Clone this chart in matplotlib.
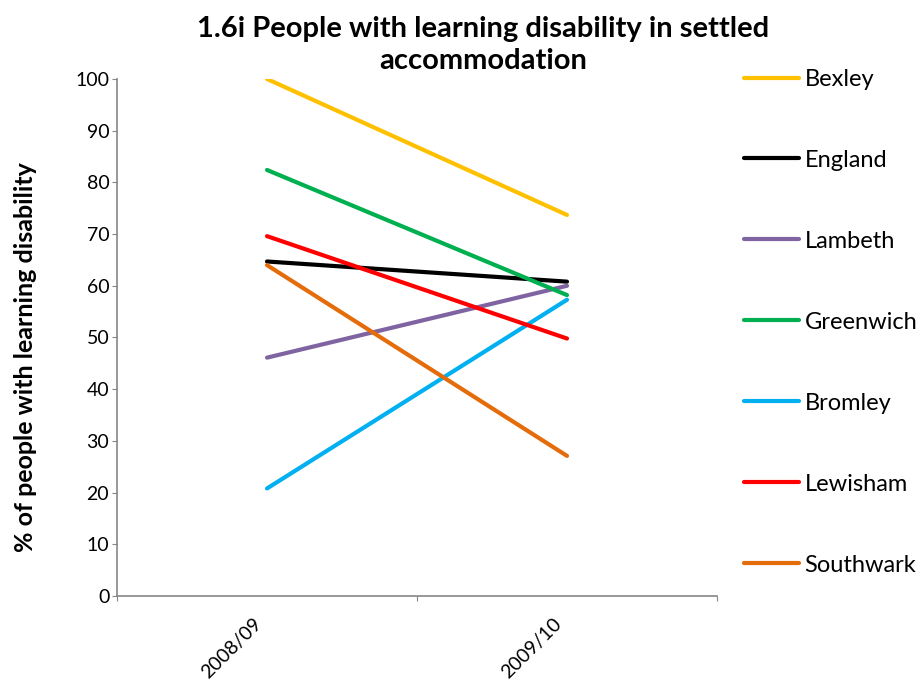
import matplotlib.pyplot as plt
from matplotlib.transforms import ScaledTranslation

# 数据
years = ['2008/09', '2009/10']
areas = ['Bexley', 'England', 'Lambeth', 'Greenwich', 'Bromley', 'Lewisham', 'Southwark']
bexley = [100.0, 73.7]
england = [64.7, 60.8]
lambeth = [46.1, 60.0]
greenwich = [82.4, 58.2]
bromley = [20.8, 57.3]
lewisham = [69.6, 49.8]
southwark = [64.0, 27.1]
colors = ['#FFC000', '#000000', '#8064A2', '#00B050', '#00B0F0', '#FF0000', '#E46C0A']

series = [bexley, england, lambeth, greenwich, bromley, lewisham, southwark]

plt.rcParams['font.family'] = ['Lato', 'DejaVu Sans']

fig = plt.figure(figsize=(9.23, 6.82), dpi=100)
ax = fig.add_axes([0.1268, 0.1261, 0.65, 0.7581])

x = list(range(len(years)))
for name, vals, c in zip(areas, series, colors):
    ax.plot(x, vals, color=c, lw=3, solid_capstyle='round', label=name)

ax.set_xlim(-0.5, len(years) - 0.5)
ax.set_ylim(0, 100)
ax.set_yticks(range(0, 101, 10))
ax.tick_params(axis='y', labelsize=14, length=3.6, color='#868686', pad=2)

# 刻度线在类别之间，标签在类别中心
ax.set_xticks([-0.5, 0.5, 1.5])
ax.set_xticklabels([])
ax.tick_params(axis='x', which='major', length=3.6, color='#868686')
ax.set_xticks(x, minor=True)
ax.set_xticklabels(years, minor=True, rotation=45, ha='right', va='center',
                   rotation_mode='anchor', fontsize=14)
ax.tick_params(axis='x', which='minor', length=0, pad=18)
shift = ScaledTranslation(-6 / 72, 0, fig.dpi_scale_trans)
for lab in ax.get_xticklabels(minor=True):
    lab.set_transform(lab.get_transform() + shift)

for s in ['top', 'right']:
    ax.spines[s].set_visible(False)
for s in ['left', 'bottom']:
    ax.spines[s].set_color('#868686')
    ax.spines[s].set_linewidth(1.2)

ax.set_ylabel('% of people with learning disability', fontsize=18, fontweight='bold')
ax.yaxis.set_label_coords(-0.133, 0.462)
fig.text(0.523, 0.976, '1.6i People with learning disability in settled\naccommodation',
         ha='center', va='top', fontsize=21, fontweight='bold', linespacing=1.25)

leg = ax.legend(loc='upper left', bbox_to_anchor=(1.03, 1.038), frameon=False, fontsize=17,
                handlelength=2.3, handletextpad=0.25, labelspacing=2.54, borderaxespad=0)
for line in leg.get_lines():
    line.set_linewidth(3)

plt.savefig('out.png', dpi=100)
